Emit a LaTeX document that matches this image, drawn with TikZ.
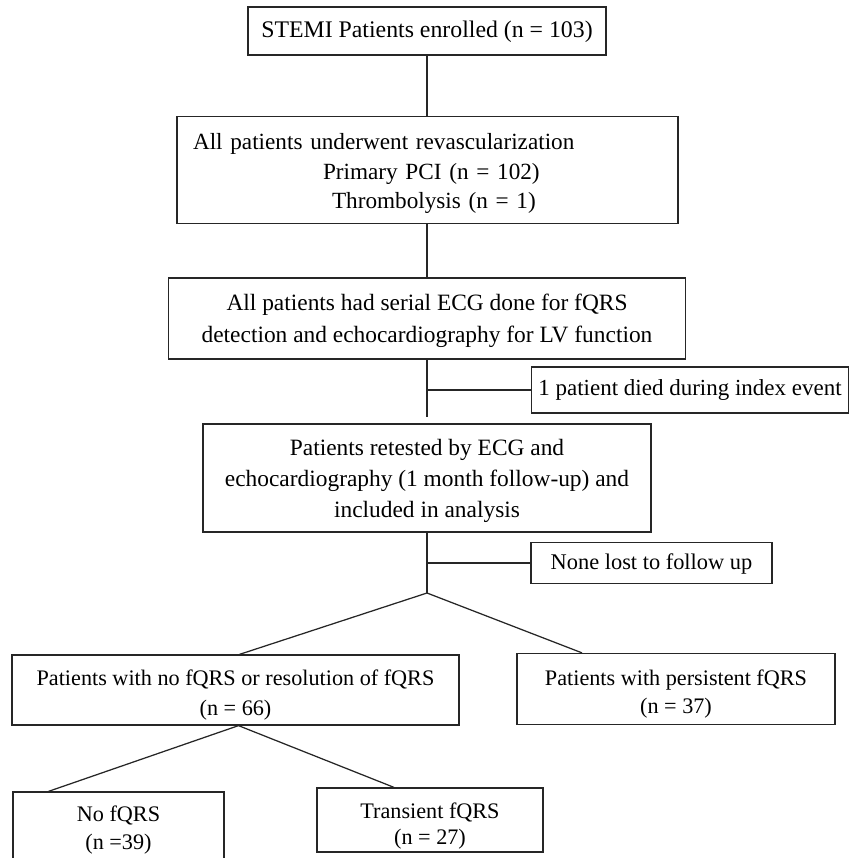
\documentclass[tikz,border=0pt]{standalone}
\usepackage{fontspec}
\setmainfont{Liberation Serif}
\newcommand{\fs}[2]{\fontsize{#1}{#2}\selectfont}
\newcommand{\lift}[1]{\rule{0pt}{#1}}
\begin{document}
\begin{tikzpicture}[x=1pt,y=-1pt,
  box/.style={draw=black!85, line width=1.25pt, rectangle, inner sep=0pt, align=center,
    font=\fs{23}{30}},
  link/.style={draw=black!85, line width=1.25pt}]
\useasboundingbox (0,0) rectangle (849,858);
\node[box, minimum width=358pt, minimum height=48pt, font=\fs{23.8}{30}] (b1) at (427,31)
  {\lift{18pt}STEMI Patients enrolled (n = 103)};
\node[box, minimum width=501pt, minimum height=107pt, inner xsep=16pt, text width=469pt, align=left,
  font=\fs{23.2}{29.5}] (b2) at (427.5,170)
  {\lift{24pt}All patients underwent revascularization\\\hspace*{130pt}Primary PCI (n = 102)\\\hspace*{139pt}Thrombolysis (n = 1)};
\node[box, minimum width=517pt, minimum height=81pt, font=\fs{23.4}{32}] (b3) at (427,318.5)
  {\lift{22pt}All patients had serial ECG done for fQRS\\detection and echocardiography for LV function};
\node[box, minimum width=317pt, minimum height=46pt] (b4) at (690,390) {1 patient died during index event};
\node[box, minimum width=448pt, minimum height=108pt, font=\fs{23.4}{31}] (b5) at (427,478)
  {\lift{22pt}Patients retested by ECG and\\echocardiography (1 month follow-up) and\\included in analysis};
\node[box, minimum width=241pt, minimum height=41pt, font=\fs{22.4}{30}] (b6) at (651.5,563)
  {\lift{18pt}None lost to follow up};
\node[box, minimum width=447pt, minimum height=70pt, font=\fs{22.2}{30}] (b7) at (235.5,690)
  {\lift{26pt}Patients with no fQRS or resolution of fQRS\\(n = 66)};
\node[box, minimum width=318pt, minimum height=71pt, font=\fs{22.2}{28}] (b8) at (676,689)
  {\lift{26pt}Patients with persistent fQRS\\(n = 37)};
\node[box, minimum width=211pt, minimum height=68pt, font=\fs{22.2}{28}] (b9) at (118.5,826)
  {\lift{24pt}No fQRS\\(n =39)};
\node[box, minimum width=226pt, minimum height=64pt, font=\fs{22.2}{26.5}] (b10) at (430,820)
  {\lift{28pt}Transient fQRS\\(n = 27)};
\coordinate (j1) at (427,390);
\coordinate (j2) at (427,563);
\coordinate (s1) at (427,593);
\draw[link] (b1.south) -- (b1.south |- b2.north);
\draw[link] (b1.south |- b2.south) -- (b1.south |- b3.north);
\draw[link] (b3.south) -- ([yshift=6pt]b5.north);
\draw[link] (j1) -- (b4.west);
\draw[link] (b5.south) -- (s1);
\draw[link] (j2) -- (b6.west);
\draw[link] ([xshift=4pt]b7.north) -- (s1) -- ([xshift=-94pt]b8.north);
\draw[link] ([xshift=-70pt]b9.north) -- ([xshift=3pt]b7.south) -- ([xshift=-36pt]b10.north);
\end{tikzpicture}
\end{document}
